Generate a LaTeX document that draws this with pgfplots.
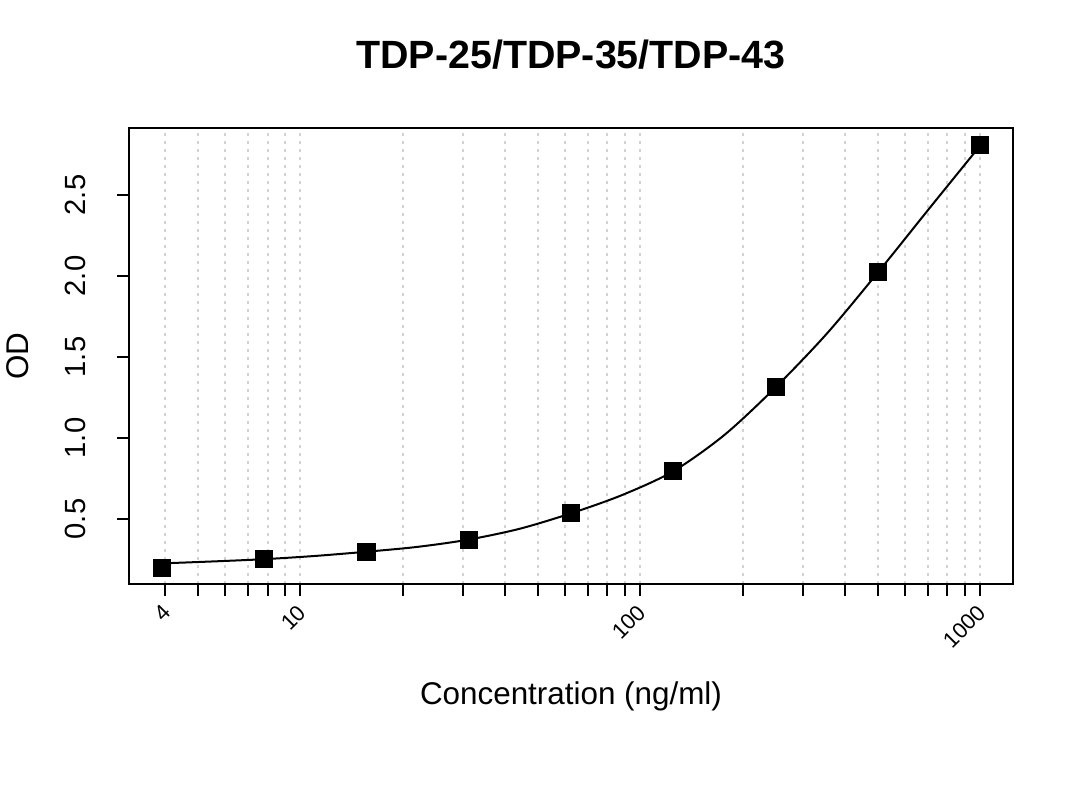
\documentclass[border=0pt]{standalone}
\usepackage{pgfplots}
\pgfplotsset{compat=1.18}
\usepackage{fontspec}
\setmainfont{Liberation Sans}
\definecolor{gridgray}{HTML}{D3D3D3}
\begin{document}
\begin{tikzpicture}
\useasboundingbox (0,0) rectangle (540bp,405bp);
\begin{axis}[
  at={(64.5bp,113bp)}, anchor=south west,
  scale only axis, width=442bp, height=228bp,
  xmode=log, xmin=3.13, xmax=1248.6, ymin=0.0988, ymax=2.9136,
  axis line style={line width=1bp},
  /pgf/number format/assume math mode=true,
  xtick={4,10,100,1000}, xticklabels={4,10,100,1000},
  minor xtick={5,6,7,8,9,20,30,40,50,60,70,80,90,200,300,400,500,600,700,800,900},
  ytick={0.5,1,1.5,2,2.5}, yticklabels={0.5,1.0,1.5,2.0,2.5},
  xmajorgrids, xminorgrids, ymajorgrids=false,
  major grid style={gridgray, line width=1bp, dash pattern=on 1.5bp off 2.5bp},
  minor grid style={gridgray, line width=1bp, dash pattern=on 1.5bp off 2.5bp},
  tick align=outside, major tick length=6bp, minor tick length=6bp,
  tick style={black, line width=1bp},
  xtick pos=bottom, ytick pos=left,
  xticklabel style={font=\fontsize{11bp}{13bp}\selectfont, inner sep=0pt, xshift=-2bp, yshift=-3.5bp, rotate=45, anchor=north east},
  yticklabel style={font=\fontsize{14.6bp}{16bp}\selectfont, inner sep=0pt, xshift=-16bp, rotate=90, anchor=base},
  title={TDP-25/TDP-35/TDP-43},
  title style={font=\bfseries\fontsize{19.7bp}{22bp}\selectfont, at={(axis description cs:0.5,1.10526)}, anchor=base},
  xlabel={Concentration (ng/ml)},
  xlabel style={font=\fontsize{15.7bp}{18bp}\selectfont, at={(axis description cs:0.5,-0.26535)}, anchor=base},
  ylabel={OD},
  ylabel style={font=\fontsize{15.7bp}{18bp}\selectfont, at={(axis description cs:-0.11425,0.5)}, anchor=base},
]
\addplot[black, line width=1bp, smooth, no marks] coordinates {
(3.906,0.226) (5.52,0.238) (7.8125,0.252) (11.05,0.272) (15.625,0.298)
(22.1,0.328) (31.25,0.373) (44.2,0.440) (62.5,0.535) (88.4,0.648)
(125,0.795) (177,1.020) (250,1.313) (354,1.645) (500,2.022)
(707,2.415) (1000,2.805)
};
\addplot[only marks, mark=square*, mark size=4.3bp, black] coordinates {
(3.906,0.200) (7.8125,0.254) (15.625,0.298) (31.25,0.370) (62.5,0.539)
(125,0.795) (250,1.315) (500,2.027) (1000,2.810)
};
\end{axis}
\end{tikzpicture}
\end{document}
